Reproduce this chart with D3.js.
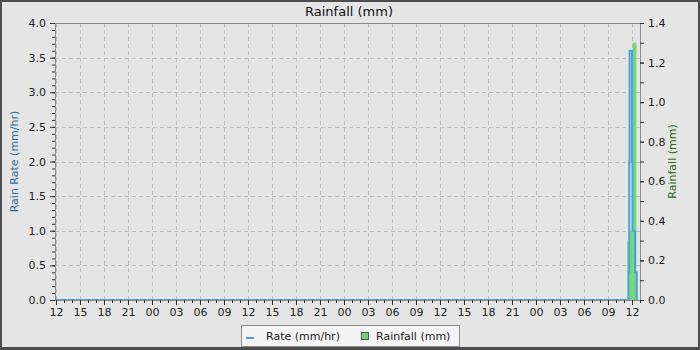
<!DOCTYPE html>
<html>
<head>
<meta charset="utf-8">
<script src="https://cdn.jsdelivr.net/npm/d3@7"></script>
<style>
  body { margin: 0; background: #fff; }
  svg { display: block; font-family: "DejaVu Sans", sans-serif; }
</style>
</head>
<body>
<div id="chart"></div>
<script>
// chart data (times are hours after the first 12:00 tick)
const startTime = Date.UTC(2024, 0, 1, 12);
const rateHours = [0, 71.6, 71.65, 71.7, 72.0, 72.05, 72.375, 72.6];
const rateValues = [0, 0.4, 2.0, 3.6, 2.0, 1.0, 0.4, 0];
const rainStartHours = [71.4, 71.75, 72.0, 72.1];
const rainEndHours = [71.6, 72.0, 72.1, 72.55];
const rainValues = [0.30, 0.35, 1.0, 1.30];
const rateTicks = [0, 0.5, 1, 1.5, 2, 2.5, 3, 3.5, 4];
const rainTicks = [0, 0.2, 0.4, 0.6, 0.8, 1.0, 1.2, 1.4];

const width = 700, height = 350;
const margin = {top: 23, right: 60, bottom: 50, left: 55};
const hourMs = 3600 * 1000;
const toDate = h => new Date(startTime + h * hourMs);

const svg = d3.select('#chart')
    .append('svg')
    .attr('width', width)
    .attr('height', height);

// background + outer frame
svg.append('rect')
    .attr('x', 0).attr('y', 0)
    .attr('width', width).attr('height', height)
    .attr('fill', '#4d4d4d');
svg.append('rect')
    .attr('x', 2).attr('y', 2)
    .attr('width', width - 4).attr('height', height - 5)
    .attr('fill', '#e5e5e5');

const x = d3.scaleUtc()
    .domain([toDate(-0.125), toDate(73)])
    .range([margin.left, width - margin.right]);

const yRate = d3.scaleLinear()
    .domain([0, 4])
    .range([height - margin.bottom, margin.top]);

const yRain = d3.scaleLinear()
    .domain([0, 1.4])
    .range([height - margin.bottom, margin.top]);

const plotTop = margin.top, plotBottom = height - margin.bottom;
const plotLeft = margin.left, plotRight = width - margin.right;

// grid
const grid = svg.append('g')
    .attr('stroke', '#bdbdbd')
    .attr('stroke-dasharray', '4,3')
    .attr('stroke-width', 1);

grid.selectAll('.vg')
    .data(x.ticks(d3.utcHour.every(3)))
    .enter()
    .append('line')
    .attr('x1', d => Math.round(x(d)) + 0.5)
    .attr('x2', d => Math.round(x(d)) + 0.5)
    .attr('y1', plotTop)
    .attr('y2', plotBottom);

grid.selectAll('.hg')
    .data(rateTicks.slice(1, -1))
    .enter()
    .append('line')
    .attr('x1', plotLeft)
    .attr('x2', plotRight)
    .attr('y1', d => Math.round(yRate(d)) + 0.5)
    .attr('y2', d => Math.round(yRate(d)) + 0.5);

// rainfall bars
const bars = rainValues.map((v, i) => ({s: rainStartHours[i], e: rainEndHours[i], v: v}));
svg.append('g')
    .selectAll('rect')
    .data(bars)
    .enter()
    .append('rect')
    .attr('x', d => x(toDate(d.s)))
    .attr('width', d => x(toDate(d.e)) - x(toDate(d.s)))
    .attr('y', d => yRain(d.v))
    .attr('height', d => yRain(0) - yRain(d.v))
    .attr('fill', '#72d872');

// rate line
const ratePoints = rateHours.map((h, i) => [toDate(h), rateValues[i]]);
const line = d3.line()
    .x(d => x(d[0]))
    .y(d => yRate(d[1]))
    .curve(d3.curveStepAfter);

svg.append('path')
    .datum(ratePoints)
    .attr('d', line)
    .attr('fill', 'none')
    .attr('stroke', '#4aa3df')
    .attr('stroke-width', 2);

// plot border
svg.append('rect')
    .attr('x', plotLeft + 0.5).attr('y', plotTop + 0.5)
    .attr('width', plotRight - plotLeft).attr('height', plotBottom - plotTop)
    .attr('fill', 'none')
    .attr('stroke', '#8c8c8c');

function styleAxis(g) {
    g.select('.domain').remove();
    g.selectAll('line').attr('stroke', '#333');
    g.selectAll('text').attr('fill', '#222').style('font-size', '11px')
        .style('font-family', '"DejaVu Sans", sans-serif');
}

// bottom axis, minor then major ticks
svg.append('g')
    .attr('transform', `translate(0,${plotBottom})`)
    .call(d3.axisBottom(x).ticks(d3.utcHour.every(1)).tickSize(3).tickFormat(''))
    .call(styleAxis);
svg.append('g')
    .attr('transform', `translate(0,${plotBottom})`)
    .call(d3.axisBottom(x).ticks(d3.utcHour.every(3)).tickSize(5).tickPadding(3)
        .tickFormat(d3.utcFormat('%H')))
    .call(styleAxis);

// left axis
svg.append('g')
    .attr('transform', `translate(${plotLeft},0)`)
    .call(d3.axisLeft(yRate).ticks(40).tickSize(3).tickFormat(''))
    .call(styleAxis);
svg.append('g')
    .attr('transform', `translate(${plotLeft},0)`)
    .call(d3.axisLeft(yRate).tickValues(rateTicks).tickSize(5).tickPadding(4)
        .tickFormat(d3.format('.1f')))
    .call(styleAxis);

// right axis
svg.append('g')
    .attr('transform', `translate(${plotRight},0)`)
    .call(d3.axisRight(yRain).ticks(14).tickSize(4).tickFormat(''))
    .call(styleAxis);
svg.append('g')
    .attr('transform', `translate(${plotRight},0)`)
    .call(d3.axisRight(yRain).tickValues(rainTicks).tickSize(4).tickPadding(4)
        .tickFormat(d3.format('.1f')))
    .call(styleAxis);

// title and axis labels
svg.append('text')
    .attr('x', 349).attr('y', 16)
    .attr('text-anchor', 'middle')
    .style('font-size', '13px')
    .attr('fill', '#111')
    .text('Rainfall (mm)');

svg.append('text')
    .attr('transform', `translate(18,${(plotTop + plotBottom) / 2}) rotate(-90)`)
    .attr('text-anchor', 'middle')
    .style('font-size', '11px')
    .attr('fill', '#2a6fa8')
    .text('Rain Rate (mm/hr)');

svg.append('text')
    .attr('transform', `translate(676,${(plotTop + plotBottom) / 2}) rotate(-90)`)
    .attr('text-anchor', 'middle')
    .style('font-size', '11px')
    .attr('fill', '#1f6a1f')
    .text('Rainfall (mm)');

// legend
const legend = svg.append('g').attr('transform', 'translate(241,325)');
legend.append('rect')
    .attr('x', 0.5).attr('y', 0.5)
    .attr('width', 218).attr('height', 21)
    .attr('fill', '#f4f4f4')
    .attr('stroke', '#8c8c8c');
legend.append('line')
    .attr('x1', 5).attr('x2', 13)
    .attr('y1', 13).attr('y2', 13)
    .attr('stroke', '#4aa3df')
    .attr('stroke-width', 2);
legend.append('text')
    .attr('x', 25).attr('y', 15)
    .style('font-size', '11px')
    .attr('fill', '#222')
    .text('Rate (mm/hr)');
legend.append('rect')
    .attr('x', 120.5).attr('y', 7.5)
    .attr('width', 7).attr('height', 7)
    .attr('fill', '#72d872')
    .attr('stroke', '#555');
legend.append('text')
    .attr('x', 135).attr('y', 15)
    .style('font-size', '11px')
    .attr('fill', '#222')
    .text('Rainfall (mm)');
</script>
</body>
</html>
